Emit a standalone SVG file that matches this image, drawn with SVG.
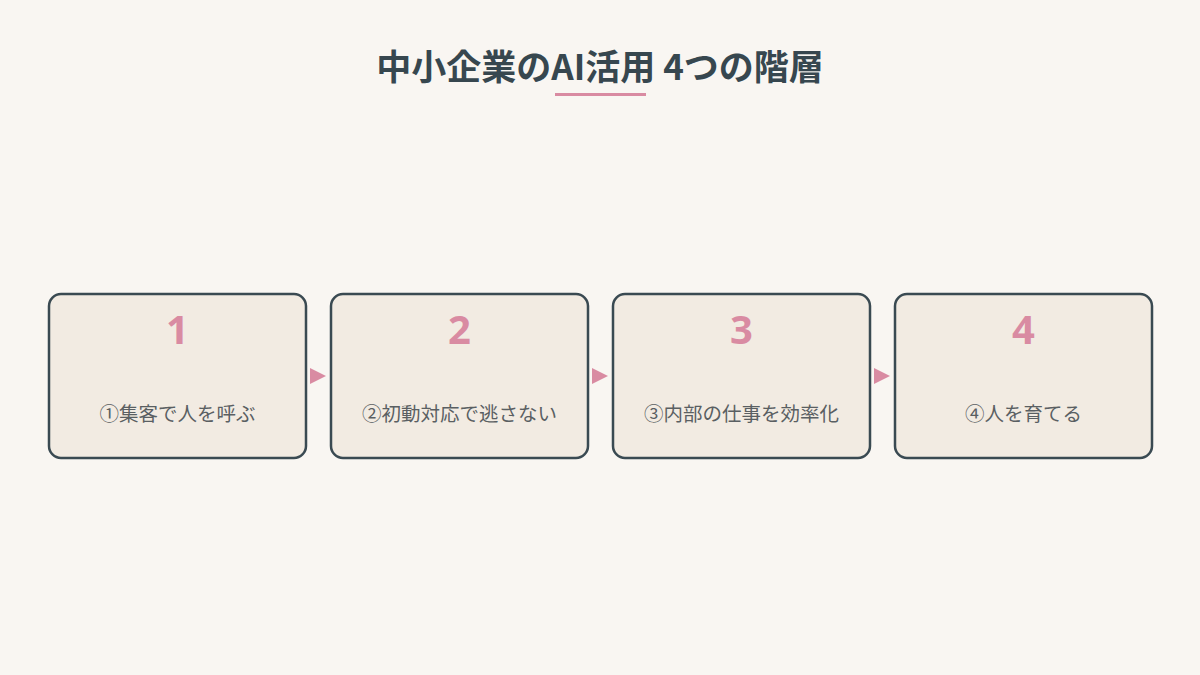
<svg xmlns="http://www.w3.org/2000/svg" width="1200" height="675" viewBox="0 0 1200 675">
<defs>
<style>
.box{fill:#f2ebe2;stroke:#3a4a52;stroke-width:2.5}
.num{font-family:"Noto Sans","Noto Sans CJK JP",sans-serif;font-weight:700;font-size:40px;fill:#d98ba2;text-anchor:middle}
.lbl{font-family:"Noto Sans CJK JP","Noto Sans",sans-serif;font-size:19.5px;fill:#5a5f62;text-anchor:middle}
.arr{fill:#d98ba2}
</style>
</defs>
<rect width="1200" height="675" fill="#f9f6f2"/>
<text x="600" y="80" text-anchor="middle" font-family="Noto Sans CJK JP, Noto Sans, sans-serif" font-weight="700" font-size="35" fill="#37474f" xml:space="preserve">中小企業のAI活用 4つの階層</text>
<rect x="555" y="93" width="91" height="3" fill="#d98ba2"/>
<g id="connectors">
<polygon class="arr" points="310,368 326,376 310,384"/>
<polygon class="arr" points="592,368 608,376 592,384"/>
<polygon class="arr" points="874,368 890,376 874,384"/>
</g>
<g id="node1">
<rect class="box" x="49" y="294" width="257" height="164" rx="12"/>
<text class="num" x="177.5" y="344">1</text>
<text class="lbl" x="177.5" y="421">①集客で人を呼ぶ</text>
</g>
<g id="node2">
<rect class="box" x="331" y="294" width="257" height="164" rx="12"/>
<text class="num" x="459.5" y="344">2</text>
<text class="lbl" x="459.5" y="421">②初動対応で逃さない</text>
</g>
<g id="node3">
<rect class="box" x="613" y="294" width="257" height="164" rx="12"/>
<text class="num" x="741.5" y="344">3</text>
<text class="lbl" x="741.5" y="421">③内部の仕事を効率化</text>
</g>
<g id="node4">
<rect class="box" x="895" y="294" width="257" height="164" rx="12"/>
<text class="num" x="1023.5" y="344">4</text>
<text class="lbl" x="1023.5" y="421">④人を育てる</text>
</g>
</svg>
